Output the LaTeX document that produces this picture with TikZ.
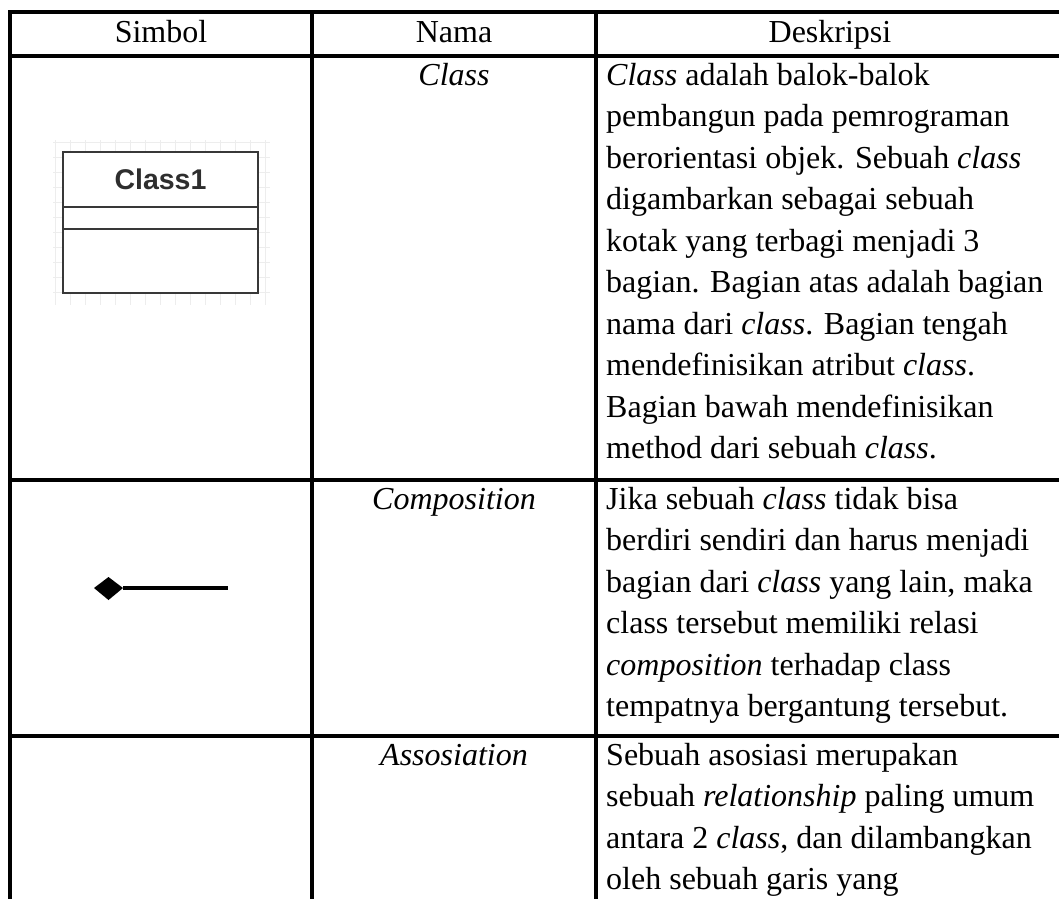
\documentclass[tikz,border=0pt]{standalone}
\usepackage{fontspec}
\setmainfont{Liberation Serif}
\newfontfamily\umlfont{Liberation Sans}
\begin{document}
\begin{tikzpicture}[x=1pt,y=-1pt,
  rule/.style={line width=3.1pt, line cap=rect},
  txt/.style={inner sep=0pt, anchor=base west, font=\fontsize{32}{40}\selectfont},
  head/.style={inner sep=0pt, anchor=base, font=\fontsize{32}{40}\selectfont},
  nama/.style={inner sep=0pt, anchor=base, font=\fontsize{32}{40}\selectfont\itshape},
  umlpart/.style={draw=black!78, line width=2.2pt, minimum width=195pt, inner sep=0pt, outer sep=0pt},
  gridline/.style={draw=black!7, line width=0.8pt}]
\useasboundingbox (0,0) rectangle (1059,898);

% table rules
\foreach \yy in {12,56,480,736}
  \draw[rule] (10,\yy) -- (1075,\yy);
\foreach \xx in {10,312,596}
  \draw[rule] (\xx,12) -- (\xx,910);

% header row
\node[head] (hsimbol) at (161,42) {Simbol};
\node[head] (hnama) at (454,42) {Nama};
\node[head] (hdesk) at (830,42) {Deskripsi};

% names
\node[nama] (nclass) at (454,85) {Class};
\node[nama] (ncomp) at (454,509) {Composition};
\node[nama] (nasso) at (454,765) {Assosiation};

% descriptions
\foreach [count=\i] \t in {
  {\textit{Class} adalah balok-balok},
  {pembangun pada pemrograman},
  {berorientasi objek. Sebuah \textit{class}},
  {digambarkan sebagai sebuah},
  {kotak yang terbagi menjadi 3},
  {bagian. Bagian atas adalah bagian},
  {nama dari \textit{class}. Bagian tengah},
  {mendefinisikan atribut \textit{class}.},
  {Bagian bawah mendefinisikan},
  {method dari sebuah \textit{class}.}}
  \node[txt] (da\i) at (606,{85+(\i-1)*41.5}) {\t};

\foreach [count=\i] \t in {
  {Jika sebuah \textit{class} tidak bisa},
  {berdiri sendiri dan harus menjadi},
  {bagian dari \textit{class} yang lain, maka},
  {class tersebut memiliki relasi},
  {\textit{composition} terhadap class},
  {tempatnya bergantung tersebut.}}
  \node[txt] (db\i) at (606,{509+(\i-1)*41.5}) {\t};

\foreach [count=\i] \t in {
  {Sebuah asosiasi merupakan},
  {sebuah \textit{relationship} paling umum},
  {antara 2 \textit{class}, dan dilambangkan},
  {oleh sebuah garis yang}}
  \node[txt] (dc\i) at (606,{765+(\i-1)*41.5}) {\t};

% faint drawing grid behind the class symbol
\foreach \gx in {55,70,...,265}
  \draw[gridline] (\gx,140) -- (\gx,305);
\foreach \gy in {142,157,...,302}
  \draw[gridline] (53,\gy) -- (270,\gy);

% class symbol
\node[umlpart, minimum height=55pt, anchor=north west, fill=white,
      font=\umlfont\fontsize{28.5}{30}\selectfont\bfseries, text=black!82]
  (cname) at (63,152) {Class1};
\node[umlpart, minimum height=22pt, anchor=north, fill=white] (cattr) at (cname.south) {};
\node[umlpart, minimum height=64pt, anchor=north, fill=white] (cops) at (cattr.south) {};

% composition symbol
\coordinate (dl) at (94,588);
\coordinate (dt) at (108.5,577);
\coordinate (dr) at (123,588);
\coordinate (db) at (108.5,600);
\coordinate (lend) at (228,588);
\fill[black] (dl) -- (dt) -- (dr) -- (db) -- cycle;
\draw[line width=3.4pt] (dr) -- (lend);
\end{tikzpicture}
\end{document}
